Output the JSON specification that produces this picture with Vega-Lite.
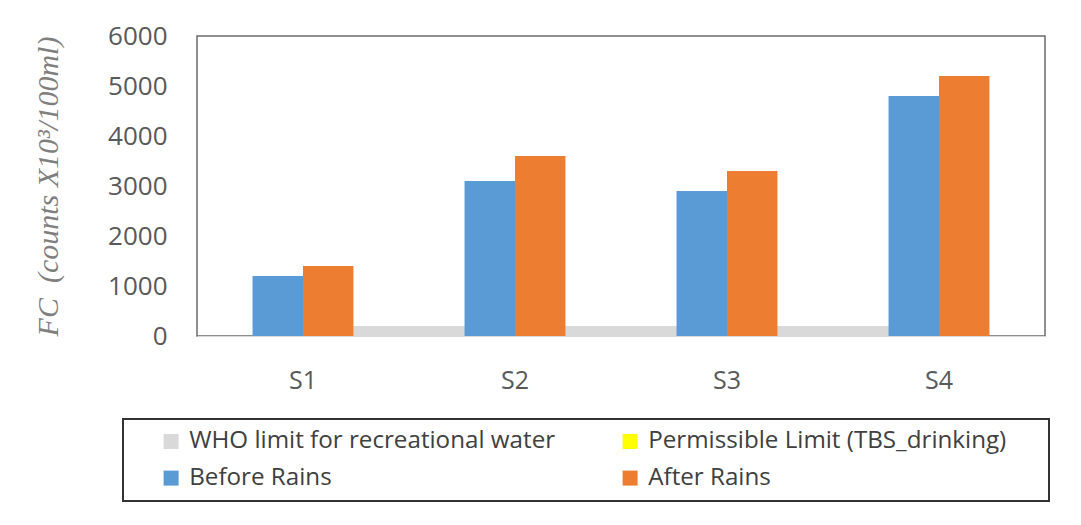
{
  "$schema": "https://vega.github.io/schema/vega-lite/v6.json",
  "autosize": "none",
  "width": 848,
  "height": 300,
  "padding": {"left": 197, "top": 36, "right": 36, "bottom": 189},
  "background": "white",
  "config": {
    "view": {"stroke": "#6b6b6b", "strokeWidth": 1.5},
    "font": "Open Sans"
  },
  "data": {
    "values": [
      {"site": "S1", "series": "WHO limit for recreational water", "value": 200},
      {"site": "S2", "series": "WHO limit for recreational water", "value": 200},
      {"site": "S3", "series": "WHO limit for recreational water", "value": 200},
      {"site": "S4", "series": "WHO limit for recreational water", "value": 200},
      {"site": "S1", "series": "Permissible Limit (TBS_drinking)", "value": 0},
      {"site": "S2", "series": "Permissible Limit (TBS_drinking)", "value": 0},
      {"site": "S3", "series": "Permissible Limit (TBS_drinking)", "value": 0},
      {"site": "S4", "series": "Permissible Limit (TBS_drinking)", "value": 0},
      {"site": "S1", "series": "Before Rains", "value": 1200},
      {"site": "S2", "series": "Before Rains", "value": 3100},
      {"site": "S3", "series": "Before Rains", "value": 2900},
      {"site": "S4", "series": "Before Rains", "value": 4800},
      {"site": "S1", "series": "After Rains", "value": 1400},
      {"site": "S2", "series": "After Rains", "value": 3600},
      {"site": "S3", "series": "After Rains", "value": 3300},
      {"site": "S4", "series": "After Rains", "value": 5200}
    ]
  },
  "encoding": {
    "x": {
      "field": "site",
      "type": "nominal",
      "sort": ["S1", "S2", "S3", "S4"],
      "scale": {"paddingInner": 0.524, "paddingOuter": 0.262},
      "axis": {
        "title": null,
        "labelAngle": 0,
        "labelFontSize": 25,
        "labelColor": "#595959",
        "labelPadding": 32,
        "ticks": false,
        "domainColor": "#d9d9d9",
        "domainWidth": 1,
        "grid": false
      }
    },
    "y": {
      "field": "value",
      "type": "quantitative",
      "stack": null,
      "scale": {"domain": [0, 6000], "nice": false},
      "axis": {
        "title": "FC\u00a0 (counts X10³/100ml)",
        "titleFont": "Liberation Serif",
        "titleFontStyle": "italic",
        "titleFontWeight": "normal",
        "titleFontSize": 30,
        "titleColor": "#7f7f7f",
        "titlePadding": 44,
        "values": [0, 1000, 2000, 3000, 4000, 5000, 6000],
        "format": "d",
        "labelFontSize": 26,
        "labelColor": "#595959",
        "labelPadding": 30,
        "ticks": false,
        "domain": false,
        "grid": false
      }
    },
    "color": {
      "field": "series",
      "type": "nominal",
      "scale": {
        "domain": ["WHO limit for recreational water", "Permissible Limit (TBS_drinking)", "Before Rains", "After Rains"],
        "range": ["#d9d9d9", "#ffff00", "#5b9bd5", "#ed7d31"]
      },
      "legend": {
        "title": "\u00a0",
        "titleOrient": "right",
        "titlePadding": 33,
        "titleFontSize": 23,
        "orient": "none",
        "legendX": -74,
        "legendY": 383,
        "columns": 2,
        "direction": "horizontal",
        "symbolType": "square",
        "symbolSize": 225,
        "symbolStrokeWidth": 0,
        "symbolOffset": 26,
        "labelFontSize": 24.2,
        "labelColor": "#404040",
        "labelLimit": 500,
        "labelOffset": 6,
        "columnPadding": 36,
        "rowPadding": 12,
        "padding": 10,
        "strokeColor": "#333333",
        "encode": {"legend": {"update": {"strokeWidth": {"value": 2}}}}
      }
    }
  },
  "layer": [
    {
      "transform": [{"filter": "datum.series === 'WHO limit for recreational water' || datum.series === 'Permissible Limit (TBS_drinking)'"}],
      "mark": {"type": "area", "opacity": 1}
    },
    {
      "transform": [{"filter": "datum.series === 'Before Rains' || datum.series === 'After Rains'"}],
      "mark": {"type": "bar"},
      "encoding": {
        "xOffset": {
          "field": "series",
          "type": "nominal",
          "sort": ["Before Rains", "After Rains"],
          "scale": {"paddingInner": 0, "paddingOuter": 0}
        }
      }
    }
  ]
}
